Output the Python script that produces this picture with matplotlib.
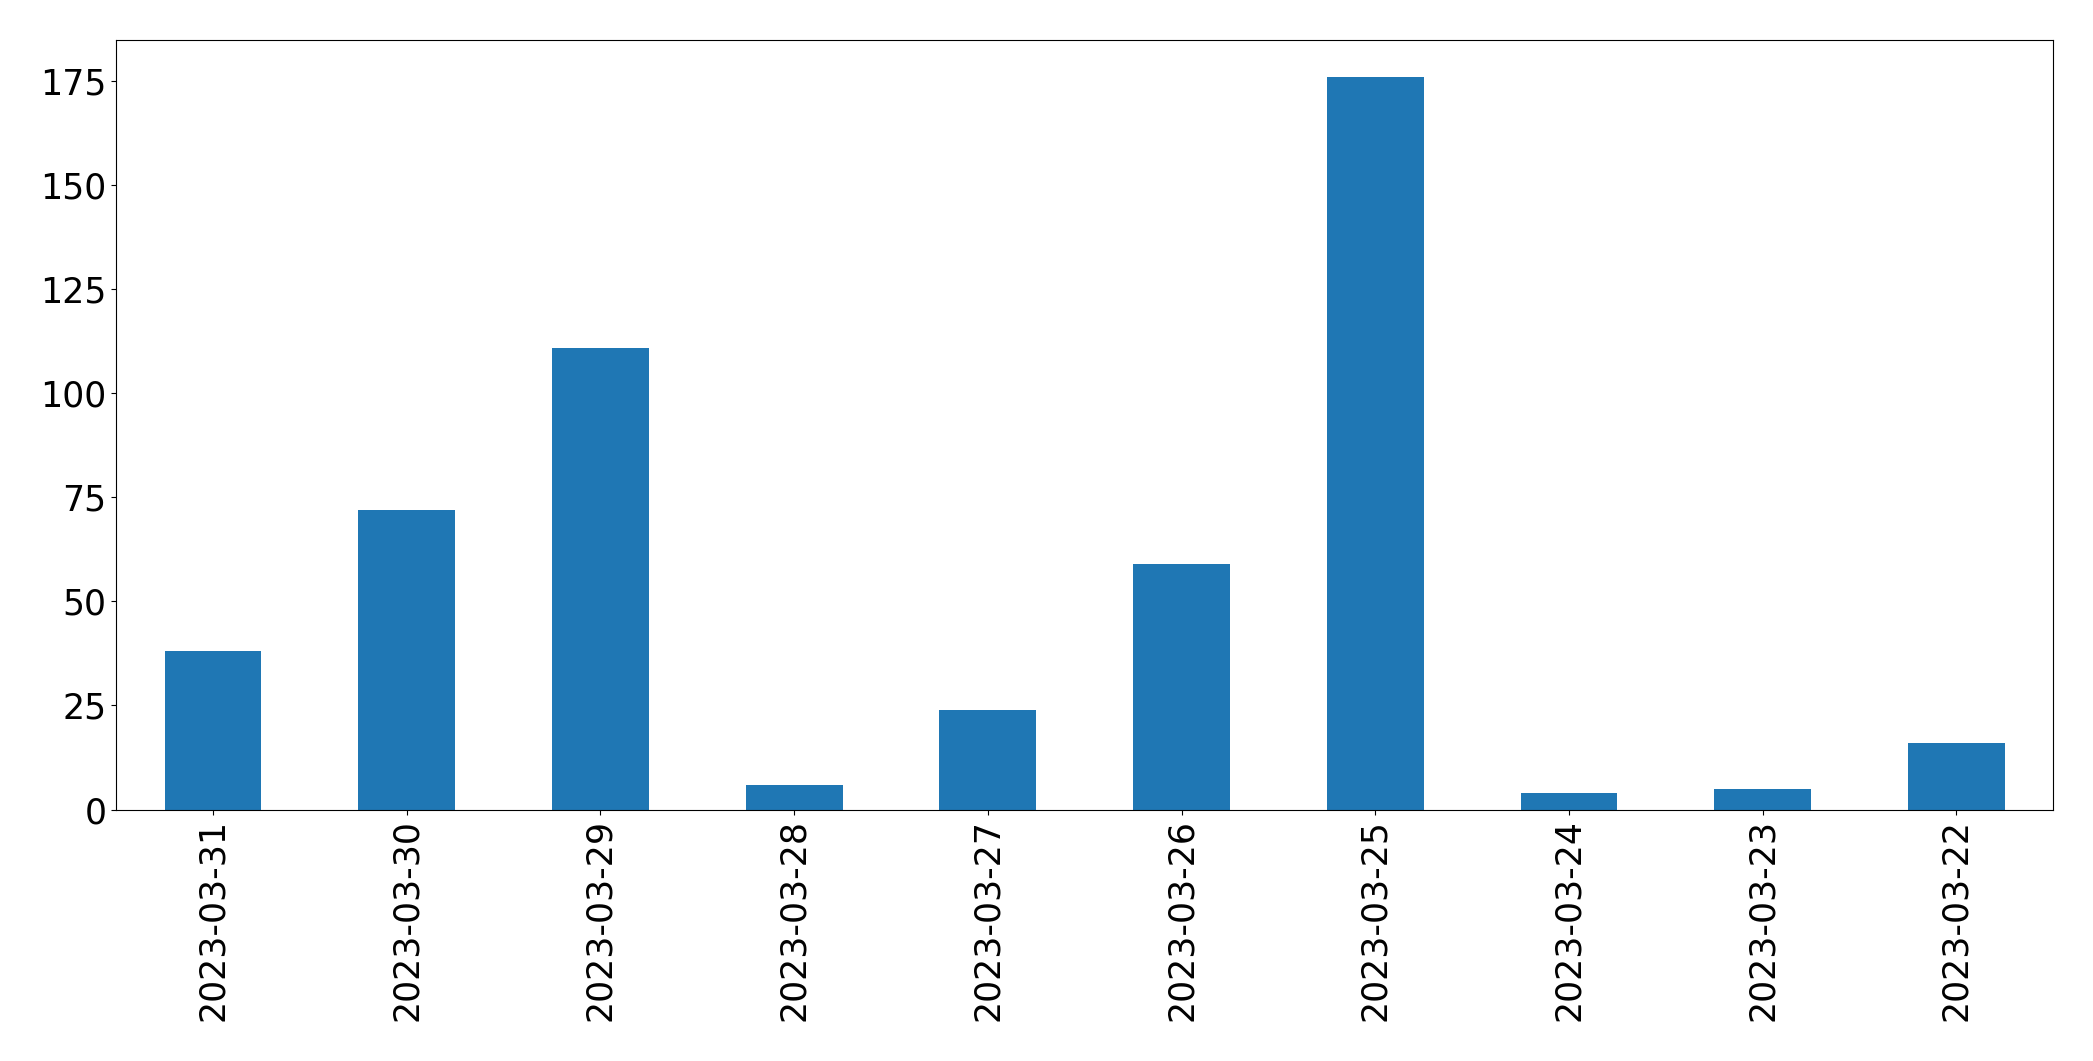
import pandas as pd
import matplotlib
matplotlib.use("Agg")
import matplotlib.pyplot as plt

dates = ["2023-03-31", "2023-03-30", "2023-03-29", "2023-03-28", "2023-03-27",
         "2023-03-26", "2023-03-25", "2023-03-24", "2023-03-23", "2023-03-22"]
counts = [38, 72, 111, 6, 24, 59, 176, 4, 5, 16]

s = pd.Series(counts, index=dates)

fig, ax = plt.subplots(figsize=(20.93, 10.61), dpi=100)
s.plot(kind="bar", ax=ax, color="#1f77b4")
ax.tick_params(axis="both", labelsize=25)
ax.set_xlabel("")
fig.subplots_adjust(left=0.0555, right=0.981, top=0.962, bottom=0.237)
fig.savefig("out.png", dpi=100)
plt.close(fig)
